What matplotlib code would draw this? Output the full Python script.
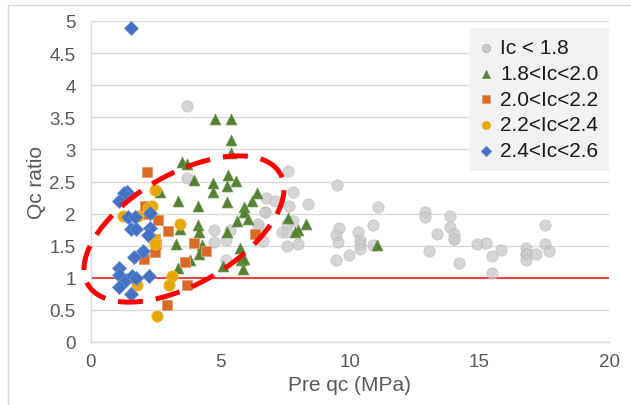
import numpy as np
import matplotlib
matplotlib.use("Agg")
import matplotlib.pyplot as plt
from matplotlib.patches import Rectangle

plt.rcParams['font.family'] = ['Liberation Sans', 'DejaVu Sans']

# ---- data ----
series_labels = ["Ic < 1.8", "1.8<Ic<2.0", "2.0<Ic<2.2", "2.2<Ic<2.4", "2.4<Ic<2.6"]

grey_x = [3.72, 3.72, 7.62, 6.76, 7.10, 7.78, 7.66, 8.36, 6.72, 6.72, 6.46, 6.46, 6.63, 4.75, 5.37,
          4.75, 5.20, 5.21, 7.81, 7.55, 7.36, 7.55, 7.55, 8.0, 9.51, 11.1, 9.58, 9.46, 9.52, 9.46,
          9.96, 10.32, 10.39, 10.39, 10.39, 10.9, 10.9, 12.9, 12.9, 13.06, 13.37, 13.86, 13.86, 14.03, 14.03,
          14.03, 14.2, 14.89, 15.25, 15.48, 15.48, 15.83, 16.8, 16.8, 16.8, 16.8, 17.2, 17.53, 17.53, 17.68]
grey_y = [3.67, 2.56, 2.67, 2.25, 2.19, 2.33, 2.12, 2.15, 2.03, 2.03, 1.84, 1.79, 1.58, 1.75, 1.75,
          1.56, 1.59, 1.27, 1.89, 1.84, 1.71, 1.71, 1.49, 1.52, 2.45, 2.11, 1.78, 1.66, 1.55, 1.28,
          1.36, 1.71, 1.59, 1.53, 1.45, 1.83, 1.51, 2.02, 1.94, 1.42, 1.69, 1.96, 1.79, 1.69, 1.60,
          1.60, 1.23, 1.52, 1.54, 1.34, 1.08, 1.44, 1.46, 1.37, 1.37, 1.27, 1.37, 1.82, 1.53, 1.41]

green_x = [4.79, 5.41, 5.41, 5.41, 3.52, 3.69, 3.99, 5.30, 5.60, 4.72, 4.72, 5.27, 2.66, 3.35, 4.14,
           5.27, 6.40, 6.23, 5.92, 5.92, 6.07, 5.62, 4.14, 4.18, 3.44, 5.27, 3.28, 4.27, 4.18, 3.82,
           3.35, 5.75, 5.79, 5.92, 5.88, 5.11, 7.62, 8.0, 7.88, 8.30, 11.05]
green_y = [3.48, 3.48, 3.14, 2.94, 2.80, 2.78, 2.53, 2.60, 2.51, 2.48, 2.33, 2.43, 2.34, 2.20, 2.12,
           2.18, 2.32, 2.20, 2.10, 2.03, 1.92, 1.89, 1.82, 1.71, 1.76, 1.71, 1.53, 1.51, 1.37, 1.27,
           1.16, 1.46, 1.27, 1.29, 1.14, 1.19, 1.93, 1.75, 1.71, 1.84, 1.51]

orange_x = [2.15, 2.08, 2.19, 2.60, 2.96, 2.47, 2.50, 2.48, 2.05, 3.63, 3.98, 4.44, 6.33, 3.69, 2.92]
orange_y = [2.65, 2.12, 1.99, 1.90, 1.73, 1.61, 1.53, 1.40, 1.30, 1.25, 1.54, 1.42, 1.68, 0.89, 0.58]

yellow_x = [2.47, 1.22, 1.83, 2.34, 2.22, 3.44, 2.43, 2.47, 3.11, 3.02, 1.76, 2.53]
yellow_y = [2.36, 1.97, 1.97, 2.12, 2.09, 1.84, 1.60, 1.53, 1.03, 0.89, 0.89, 0.41]

blue_x = [1.54, 1.38, 1.27, 1.09, 1.44, 1.68, 2.28, 1.53, 1.74, 2.28, 2.19, 1.99, 1.66, 1.09, 1.09,
          1.35, 1.59, 1.74, 2.25, 1.09, 1.53]
blue_y = [4.89, 2.34, 2.32, 2.19, 1.95, 1.95, 2.01, 1.76, 1.76, 1.77, 1.67, 1.42, 1.32, 1.15, 1.04,
          0.97, 1.03, 0.99, 1.03, 0.86, 0.75]

reference_ratio = 1.0
x_ticks = [0, 5, 10, 15, 20]
y_ticks = [0, 0.5, 1, 1.5, 2, 2.5, 3, 3.5, 4, 4.5, 5]

# ---- figure ----
W, H, DPI = 631, 406, 100
fig = plt.figure(figsize=(W / DPI, H / DPI), dpi=DPI)
fig.patch.set_facecolor('white')
fig.patches.append(Rectangle((8 / W, -0.1), 2.0, (1 - 6 / H) + 0.1, transform=fig.transFigure,
                             fill=False, edgecolor='#d9d9d9', linewidth=1.0))

L, R, T, B = 91, 609, 22, 343
ax = fig.add_axes([L / W, 1 - B / H, (R - L) / W, (B - T) / H])
ax.set_xlim(0, 20)
ax.set_ylim(0, 5)

ax.set_yticks(y_ticks)
ax.set_yticklabels([f"{v:g}" for v in y_ticks])
ax.set_xticks(x_ticks)
ax.grid(axis='y', color='#d9d9d9', linewidth=1.0, zorder=0)
ax.set_axisbelow(True)
for s in ['top', 'right']:
    ax.spines[s].set_visible(False)
for s in ['left', 'bottom']:
    ax.spines[s].set_color('#d9d9d9')
    ax.spines[s].set_linewidth(1.0)
ax.tick_params(length=0, labelsize=13.5, colors='#595959')
ax.tick_params(axis='y', pad=11)
ax.tick_params(axis='x', pad=8)

ax.set_xlabel("Pre qc (MPa)", fontsize=15, color='#595959', va='center')
ax.set_ylabel("Qc ratio", fontsize=15, color='#595959', va='center')
ax.xaxis.set_label_coords(0.5, (B - 386) / (B - T))
ax.yaxis.set_label_coords((37 - L) / (R - L), 0.5)

ax.axhline(reference_ratio, color='#ff3b3b', linewidth=1.4, zorder=1)

ax.scatter(grey_x, grey_y, s=66, marker='o', color='#c9c9c9', edgecolors='#bdbdbd',
           linewidths=0.6, alpha=0.75, zorder=2, label=series_labels[0])
ax.scatter(green_x, green_y, s=62, marker='^', color='#548235', edgecolors='#6f9a52',
           linewidths=0.5, zorder=3, label=series_labels[1])
ax.scatter(orange_x, orange_y, s=58, marker='s', color='#d96b27', edgecolors='#e69a6a',
           linewidths=0.6, zorder=4, label=series_labels[2])
ax.scatter(yellow_x, yellow_y, s=68, marker='o', color='#e6a800', edgecolors='#f0c040',
           linewidths=0.5, zorder=5, label=series_labels[3])
ax.scatter(blue_x, blue_y, s=52, marker='D', color='#4472c4', edgecolors='#6a8fd0',
           linewidths=0.5, zorder=6, label=series_labels[4])

# dashed red ellipse annotation (defined in pixel units, converted to data units)
ell_cx, ell_cy = 184, 230          # centre, px
ell_a, ell_b = 111, 55             # semi-axes, px
ell_ang = np.deg2rad(30)           # rotation, up to the right
t = np.linspace(0, 2 * np.pi, 400)
px = ell_cx + ell_a * np.cos(t) * np.cos(ell_ang) - ell_b * np.sin(t) * np.sin(ell_ang)
py = ell_cy - (ell_a * np.cos(t) * np.sin(ell_ang) + ell_b * np.sin(t) * np.cos(ell_ang))
ex = (px - L) / (R - L) * 20
ey = (B - py) / (B - T) * 5
ax.plot(ex, ey, color='#ff0000', linewidth=3.6, dashes=(5, 2.6), zorder=7,
        solid_capstyle='butt', dash_capstyle='butt', clip_on=False)

leg = ax.legend(loc='upper right', bbox_to_anchor=(1.0, 0.978), fontsize=15, frameon=True,
                facecolor='#f2f2f2', edgecolor='none', framealpha=1.0, fancybox=False,
                borderaxespad=0.0, handlelength=0.6, handletextpad=0.4, labelspacing=0.32,
                borderpad=0.5, markerscale=0.75)
for txt in leg.get_texts():
    txt.set_color('#1a1a1a')
for h in leg.legend_handles:
    h.set_alpha(1.0)

fig.savefig("out.png", dpi=DPI)
